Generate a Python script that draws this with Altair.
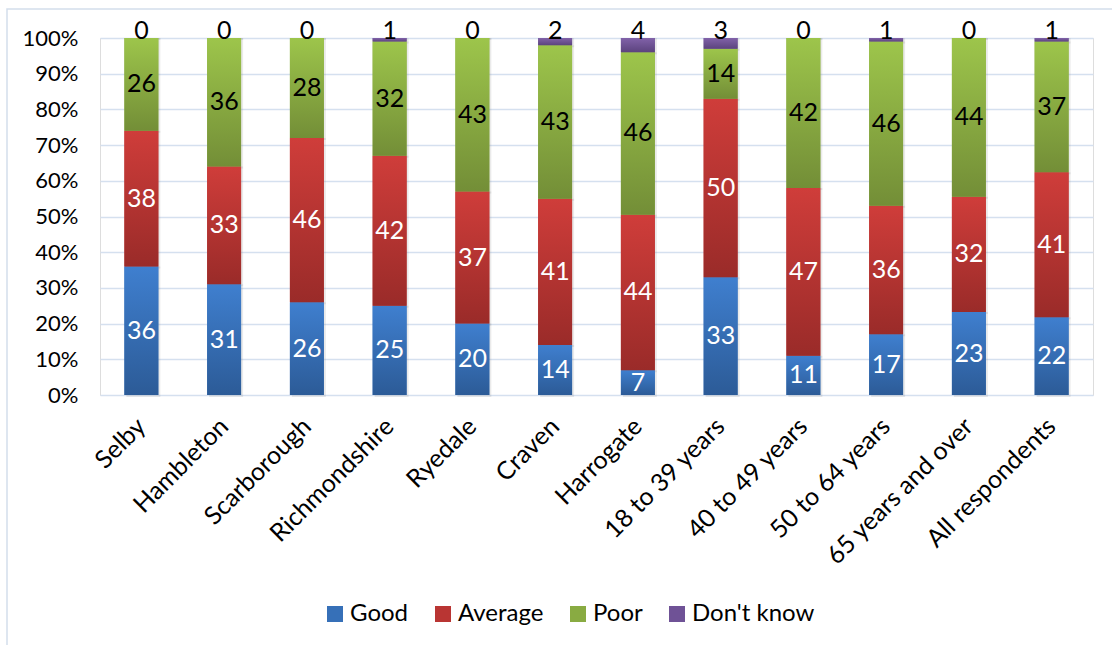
import altair as alt
import pandas as pd

# Survey ratings by area and age group (percent of respondents)
categories = [
    "Selby", "Hambleton", "Scarborough", "Richmondshire", "Ryedale", "Craven",
    "Harrogate", "18 to 39 years", "40 to 49 years", "50 to 64 years",
    "65 years and over", "All respondents",
]
good = [36, 31, 26, 25, 20, 14, 7, 33, 11, 17, 23, 22]
average = [38, 33, 46, 42, 37, 41, 44, 50, 47, 36, 32, 41]
poor = [26, 36, 28, 32, 43, 43, 46, 14, 42, 46, 44, 37]
dont_know = [0, 0, 0, 1, 0, 2, 4, 3, 0, 1, 0, 1]

series = ["Good", "Average", "Poor", "Don't know"]
values_by_series = [good, average, poor, dont_know]
y_ticks = [0, 0.1, 0.2, 0.3, 0.4, 0.5, 0.6, 0.7, 0.8, 0.9, 1.0]

# top / bottom shades of each segment's vertical gradient
shade_top = ["#3f7fcf", "#cf3d3a", "#9dc54b", "#8162a9"]
shade_bottom = ["#2c5b97", "#9a2b29", "#738e37", "#5c437e"]
legend_colors = ["#3670b8", "#b93533", "#89ab42", "#6f5296"]
text_colors = ["white", "white", "black", "black"]

rows = []
for s_idx, (name, vals) in enumerate(zip(series, values_by_series)):
    for cat, v in zip(categories, vals):
        rows.append({"cat": cat, "series": name, "value": v,
                     "order": s_idx, "txtcol": text_colors[s_idx]})
df = pd.DataFrame(rows)

FONT = "Lato"

base = alt.Chart(df).transform_stack(
    stack="value", as_=["y0", "y1"], groupby=["cat"],
    offset="normalize", sort=[alt.SortField("order", "ascending")],
).transform_calculate(mid="(datum.y0 + datum.y1) / 2")

x_enc = alt.X(
    "cat:N", sort=categories, title=None,
    scale=alt.Scale(paddingInner=0.59, paddingOuter=0.295),
    axis=alt.Axis(labelAngle=-45, labelAlign="right", labelBaseline="middle",
                  labelFontSize=25, labelFont=FONT, labelColor="black",
                  labelPadding=27, labelLimit=400, ticks=False, domain=False,
                  grid=False, labelOverlap=False),
)
y_scale = alt.Scale(domain=[0, 1])
y_axis = alt.Axis(values=y_ticks, format=".0%",
                  labelFontSize=22, labelFont=FONT, labelColor="black",
                  labelPadding=22, ticks=False, domain=False,
                  labelOverlap=False, labelFlush=False,
                  grid=True, gridColor="#d5e0ef", gridWidth=1.4)


def y_of(field):
    return alt.Y(field, title=None, scale=y_scale, axis=y_axis)


# faint drop shadow behind the columns
shadow = base.mark_bar(color="#888888", opacity=0.18, xOffset=2, yOffset=2).encode(
    x=x_enc, y=y_of("y0:Q"), y2="y1:Q"
)

# solid columns carrying the legend
solid = base.mark_bar().encode(
    x=x_enc, y=y_of("y0:Q"), y2="y1:Q",
    color=alt.Color(
        "series:N", sort=series,
        scale=alt.Scale(domain=series, range=legend_colors),
        legend=alt.Legend(
            orient="none", legendX=223, legendY=564, direction="horizontal",
            title=None, symbolType="square", symbolSize=256,
            symbolStrokeWidth=0, symbolOpacity=1,
            labelFontSize=24, labelFont=FONT, labelColor="black",
            labelOffset=3, columnPadding=22,
        ),
    ),
)

# gradient-shaded segments on top
shaded = []
for name, top, bottom in zip(series, shade_top, shade_bottom):
    grad = alt.LinearGradient(
        gradient="linear", x1=0, y1=0, x2=0, y2=1,
        stops=[alt.GradientStop(color=top, offset=0),
               alt.GradientStop(color=bottom, offset=1)],
    )
    shaded.append(
        base.transform_filter(alt.datum.series == name)
        .mark_bar(color=grad)
        .encode(x=x_enc, y=y_of("y0:Q"), y2="y1:Q")
    )

inner_labels = base.transform_filter(alt.datum.series != "Don't know").mark_text(
    fontSize=25, font=FONT, baseline="middle", align="center"
).encode(
    x=x_enc,
    y=y_of("mid:Q"),
    text=alt.Text("value:Q"),
    color=alt.Color("txtcol:N", scale=None),
)

top_labels = base.transform_filter(alt.datum.series == "Don't know").mark_text(
    fontSize=25, font=FONT, baseline="alphabetic", align="center", dy=1,
    color="black",
).encode(
    x=x_enc,
    y=y_of("y1:Q"),
    text=alt.Text("value:Q"),
)

frame = alt.Chart(alt.Data(values=[{}])).mark_rect(
    fill=None, stroke="#d3deec", strokeWidth=1.5
).encode(
    x=alt.value(-93), y=alt.value(-29), x2=alt.value(1130), y2=alt.value(700)
)

chart = alt.layer(
    frame, shadow, solid, *shaded, inner_labels, top_labels
).properties(
    width=993, height=357,
    autosize=alt.AutoSizeParams(type="none"),
    padding={"left": 100, "top": 38, "right": 19, "bottom": 250},
).configure_view(stroke=None).configure(background="white")

chart.save("out.html", embed_options={"renderer": "svg", "actions": False})
